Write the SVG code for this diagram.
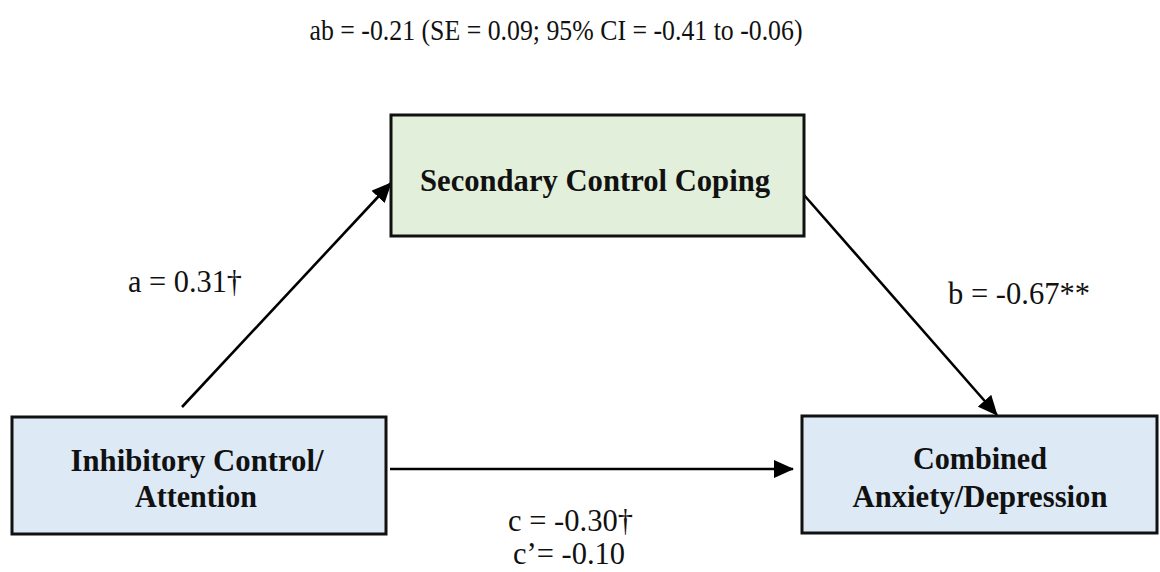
<svg xmlns="http://www.w3.org/2000/svg" width="1160" height="572" viewBox="0 0 1160 572">
<style>
.box{stroke:#111;stroke-width:3}
.green{fill:#e2efda}
.blue{fill:#ddeaf6}
.node{font-family:"Liberation Serif","Times New Roman",serif;font-weight:bold;font-size:32px;fill:#111;text-anchor:middle}
.lbl{font-family:"Liberation Serif","Times New Roman",serif;font-size:31px;fill:#111}
.conn{stroke:#000;stroke-width:2.6;fill:none;marker-end:url(#ah)}
</style>
<defs>
<marker id="ah" markerUnits="userSpaceOnUse" markerWidth="20" markerHeight="18" refX="19" refY="9" orient="auto">
<path d="M0,0 L20,9 L0,18 Z" fill="#000"/>
</marker>
</defs>
<rect width="1160" height="572" fill="#fff"/>
<text class="lbl" x="556" y="40" text-anchor="middle" textLength="493" lengthAdjust="spacingAndGlyphs" style="font-size:29px">ab = -0.21 (SE = 0.09; 95% CI = -0.41 to -0.06)</text>
<g id="connectors">
<line class="conn" x1="182" y1="407" x2="391" y2="183"/>
<line class="conn" x1="804" y1="195" x2="997" y2="415"/>
<line class="conn" x1="390" y1="469" x2="793" y2="469"/>
</g>
<g id="node-secondary">
<rect class="box green" x="391" y="115" width="413" height="121"/>
<text class="node" x="595" y="191" textLength="350" lengthAdjust="spacingAndGlyphs">Secondary Control Coping</text>
</g>
<g id="node-inhibitory">
<rect class="box blue" x="12" y="417" width="374" height="117"/>
<text class="node" x="197" y="471" textLength="253" lengthAdjust="spacingAndGlyphs">Inhibitory Control/</text>
<text class="node" x="196" y="507" textLength="122" lengthAdjust="spacingAndGlyphs">Attention</text>
</g>
<g id="node-combined">
<rect class="box blue" x="802" y="416" width="355" height="117"/>
<text class="node" x="980" y="469" textLength="134" lengthAdjust="spacingAndGlyphs">Combined</text>
<text class="node" x="980" y="507" textLength="255" lengthAdjust="spacingAndGlyphs">Anxiety/Depression</text>
</g>
<g id="labels">
<text class="lbl" x="128" y="292" textLength="114" lengthAdjust="spacingAndGlyphs">a = 0.31†</text>
<text class="lbl" x="948" y="304" textLength="142" lengthAdjust="spacingAndGlyphs">b = -0.67**</text>
<text class="lbl" x="508" y="531" textLength="125" lengthAdjust="spacingAndGlyphs">c = -0.30†</text>
<text class="lbl" x="513" y="564" textLength="112" lengthAdjust="spacingAndGlyphs">c’= -0.10</text>
</g>
</svg>
